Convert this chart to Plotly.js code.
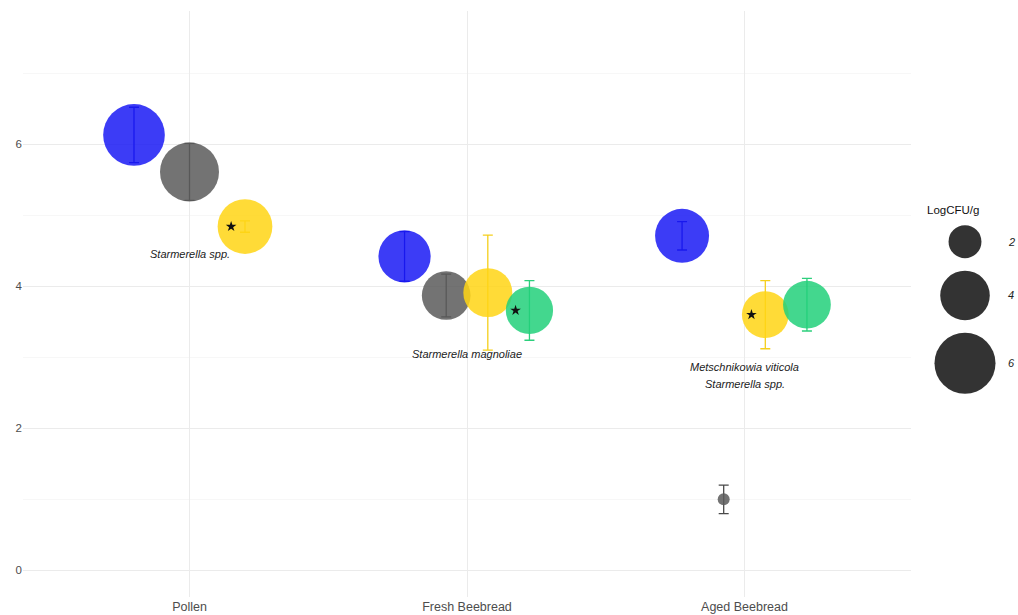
<!DOCTYPE html>
<html>
<head>
<meta charset="utf-8">
<script src="https://cdn.plot.ly/plotly-3.0.1.min.js"></script>
<style>html,body{margin:0;padding:0;background:#fff;}#chart{width:1018px;height:615px;}</style>
</head>
<body>
<div id="chart"></div>
<script>
// ---- data ----
const categories = ['Pollen', 'Fresh Beebread', 'Aged Beebread'];
const groupNames = ['Group 1', 'Group 2', 'Group 3', 'Group 4'];
const groupColors = ['#1a1af5', '#5a5a5a', '#ffd514', '#22d07a'];
const groupErrColors = ['#1010c8', '#4a4a4a', '#f5cf1c', '#2ccf7c'];
const meanGroup1 = [6.13, 4.42, 4.71];
const errGroup1 = [0.39, 0.35, 0.20];
const meanGroup2 = [5.61, 3.87, 1.00];
const errGroup2 = [0.40, 0.30, 0.20];
const meanGroup3 = [4.84, 3.91, 3.60];
const errGroup3 = [0.08, 0.81, 0.48];
const meanGroup4 = [null, 3.66, 3.74];
const errGroup4 = [null, 0.42, 0.37];
const starGroupIndex = [2, 3, 2];          // group carrying the significance star, per category
const speciesLabels = [['Starmerella spp.'], ['Starmerella magnoliae'], ['Metschnikowia viticola', 'Starmerella spp.']];
const speciesLabelY = [4.45, 3.04, 2.87];
const legendValues = [2, 4, 6];
const legendTitle = 'LogCFU/g';

const means = [meanGroup1, meanGroup2, meanGroup3, meanGroup4];
const errs = [errGroup1, errGroup2, errGroup3, errGroup4];

// ---- size scale (area-like, from the data) ----
const allVals = means.flat().filter(v => v !== null);
const vmin = Math.min(...allVals);
function sizeOf(v) { return 10 + Math.sqrt(4 + 520 * (v - vmin)); }

// ---- dodge positions (ggplot-style, width 0.6 per category) ----
const dodgeW = 0.6;
function dodgeX(catIdx, grpIdx) {
  const present = means.map((m, g) => m[catIdx] !== null ? g : -1).filter(g => g >= 0);
  const n = present.length;
  const k = present.indexOf(grpIdx);
  return catIdx + (k - (n - 1) / 2) * dodgeW / n;
}

const traces = [];
means.forEach((m, g) => {
  const xs = [], ys = [], es = [], ss = [];
  m.forEach((v, c) => {
    if (v === null) return;
    xs.push(dodgeX(c, g)); ys.push(v); es.push(errs[g][c]); ss.push(sizeOf(v));
  });
  traces.push({
    type: 'scatter', mode: 'markers', name: groupNames[g], x: xs, y: ys,
    marker: { size: ss, color: groupColors[g], opacity: 0.85, line: { width: 0 } },
    error_y: { type: 'data', array: es, visible: true, color: groupErrColors[g], thickness: 1.3, width: 5 },
    showlegend: false, hoverinfo: 'x+y', xaxis: 'x', yaxis: 'y'
  });
});

// stars
const starX = [], starY = [];
starGroupIndex.forEach((g, c) => {
  starX.push(dodgeX(c, g) - 0.05);
  starY.push(means[g][c]);
});
traces.push({
  type: 'scatter', mode: 'markers', x: starX, y: starY,
  marker: { symbol: 'star', size: 8, color: '#111111', line: { width: 0 } },
  showlegend: false, hoverinfo: 'skip'
});

// ---- size legend on a second axis pair (pixel units) ----
const mL = 23, mR = 5, mT = 11, mB = 18, W = 1018, H = 615;
const plotW = W - mL - mR;
const mainRight = 911;
const legLeft = 924, legRight = W - mR;
const legSizes = legendValues.map(sizeOf);
const legY = [];
let cy = 241.7;
legSizes.forEach((d, i) => {
  if (i > 0) cy += (legSizes[i - 1] + d) / 2 + 12.5;
  legY.push(cy);
});
const legKeyX = 965, legLabelX = 1011, legTitleX = 953, legTitleY = 210;
traces.push({
  type: 'scatter', mode: 'markers', x: legendValues.map(() => legKeyX), y: legY,
  marker: { size: legSizes, color: '#222222', opacity: 0.92, line: { width: 0 } },
  xaxis: 'x2', yaxis: 'y2', showlegend: false, hoverinfo: 'skip'
});

const annotations = [];
speciesLabels.forEach((lines, c) => {
  lines.forEach((t, j) => {
    annotations.push({
      x: c, y: speciesLabelY[c] - j * 0.24, xref: 'x', yref: 'y', text: '<i>' + t + '</i>',
      showarrow: false, font: { size: 11, color: '#222222', family: 'Liberation Sans, Arial, sans-serif' },
      xanchor: 'center', yanchor: 'middle'
    });
  });
});
annotations.push({
  x: legTitleX, y: legTitleY, xref: 'x2', yref: 'y2', text: legendTitle, showarrow: false,
  font: { size: 11.5, color: '#111111', family: 'Liberation Sans, Arial, sans-serif' }, xanchor: 'center', yanchor: 'middle'
});
legendValues.forEach((v, i) => {
  annotations.push({
    x: legLabelX, y: legY[i], xref: 'x2', yref: 'y2', text: '<i>' + v + '</i>', showarrow: false,
    font: { size: 11, color: '#222222', family: 'Liberation Sans, Arial, sans-serif' }, xanchor: 'center', yanchor: 'middle'
  });
});

const layout = {
  width: W, height: H,
  margin: { l: mL, r: mR, t: mT, b: mB, pad: 0 },
  paper_bgcolor: '#ffffff', plot_bgcolor: '#ffffff',
  showlegend: false,
  font: { family: 'Liberation Sans, Arial, sans-serif', color: '#4d4d4d', size: 12 },
  xaxis: {
    domain: [0, (mainRight - mL) / plotW], range: [-0.6, 2.6],
    tickvals: [0, 1, 2], ticktext: categories, ticks: '', showline: false, zeroline: false,
    showgrid: true, gridcolor: '#ebebeb', gridwidth: 1, tickfont: { size: 12.5, color: '#4d4d4d' },
    fixedrange: true
  },
  yaxis: {
    range: [-0.375, 7.875], tickvals: [0, 2, 4, 6], ticks: '', showline: false, zeroline: false,
    showgrid: true, gridcolor: '#ebebeb', gridwidth: 1,
    minor: { tickvals: [1, 3, 5, 7], showgrid: true, gridcolor: '#f3f3f3', gridwidth: 0.7 },
    tickfont: { size: 11.5, color: '#4d4d4d' }, fixedrange: true
  },
  xaxis2: {
    domain: [(legLeft - mL) / plotW, 1], range: [legLeft, legRight], visible: false, anchor: 'y2', fixedrange: true
  },
  yaxis2: {
    domain: [0, 1], range: [H - mB, mT], visible: false, anchor: 'x2', fixedrange: true
  },
  annotations: annotations
};

Plotly.newPlot('chart', traces, layout, { displayModeBar: false, staticPlot: true });
</script>
</body>
</html>
